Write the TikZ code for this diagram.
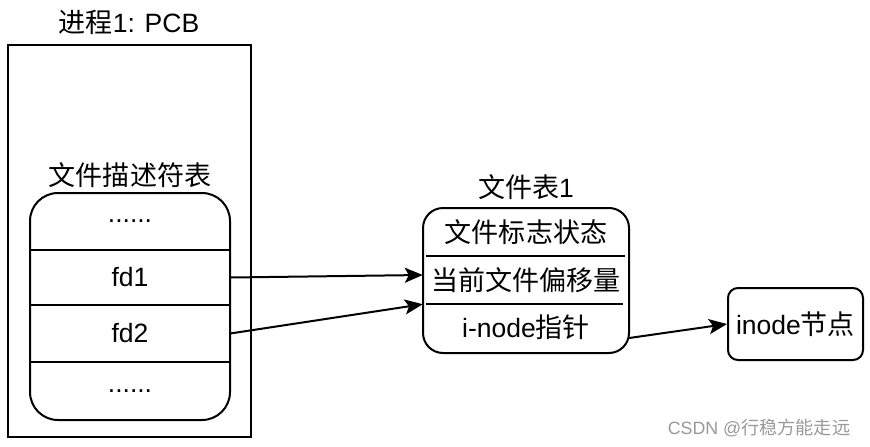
\documentclass[tikz,border=0pt]{standalone}
\usepackage{fontspec}
\setmainfont{Liberation Sans}
\newfontfamily\cjk[Scale=1.02]{Noto Sans CJK SC}
\usetikzlibrary{arrows.meta,calc}
\begin{document}
\begin{tikzpicture}[x=1pt,y=-1pt,font=\fontsize{26.5}{30}\selectfont,
  box/.style={draw,line width=2pt,inner sep=0pt},
  rbox/.style={draw,line width=2pt,inner sep=0pt},
  cell/.style={inner sep=0pt},
  lbl/.style={inner sep=0pt},
  divider/.style={line width=2pt},
  arr/.style={line width=2pt,-{Stealth[length=18pt,width=15pt,inset=4pt]}},
  wm/.style={inner sep=0pt,text=black!40,font=\fontsize{17.8}{20}\selectfont}]
\useasboundingbox (0,0) rectangle (870,447);
% PCB
\node[box,minimum width=243pt,minimum height=392pt] (pcb) at (129.5,241) {};
\node[lbl] (pcbt) at (129,22) {{\cjk 进程}1: PCB};
% fd table
\node[lbl] (fdtt) at (130,175) {\cjk 文件描述符表};
\node[rbox,rounded corners=28pt,minimum width=200pt,minimum height=227pt] (fdt) at (130,306.5) {};
\node[cell,minimum width=200pt,minimum height=57pt] (fd0) at (130,221.5) {......};
\node[cell,minimum width=200pt,minimum height=55pt] (fd1) at (130,277.5) {fd1};
\node[cell,minimum width=200pt,minimum height=57pt] (fd2) at (130,333.5) {fd2};
\node[cell,minimum width=200pt,minimum height=58pt] (fd3) at (130,391) {......};
\draw[divider] (fd0.south west) -- (fd0.south east);
\draw[divider] (fd1.south west) -- (fd1.south east);
\draw[divider] (fd2.south west) -- (fd2.south east);
% file table
\node[lbl] (ftt) at (526,187) {{\cjk 文件表}1};
\node[rbox,rounded corners=20pt,minimum width=206pt,minimum height=145pt] (ft) at (526,280.5) {};
\node[cell,minimum width=206pt,minimum height=48pt] (ft1) at (526,232) {\cjk 文件标志状态};
\node[cell,minimum width=206pt,minimum height=48pt] (ft2) at (526,280) {\cjk 当前文件偏移量};
\node[cell,minimum width=206pt,minimum height=49pt] (ft3) at (526,327) {i-node{\cjk 指针}};
\draw[divider] ([xshift=3pt]ft1.south west) -- ([xshift=-4pt]ft1.south east);
\draw[divider] ([xshift=3pt]ft2.south west) -- ([xshift=-6pt]ft2.south east);
% inode
\node[rbox,rounded corners=10pt,minimum width=135pt,minimum height=72pt] (inode) at (795.5,324) {inode{\cjk 节点}};
% arrows
\draw[arr] (fd1.east) -- ([yshift=5pt]ft2.west);
\draw[arr] (fd2.east) -- (ft2.south west);
\draw[arr] ([yshift=-11pt]ft3.east) -- (inode.west);
% watermark
\node[wm] (wmk) at (759,428) {CSDN @{\cjk 行稳方能走远}};
\end{tikzpicture}
\end{document}
